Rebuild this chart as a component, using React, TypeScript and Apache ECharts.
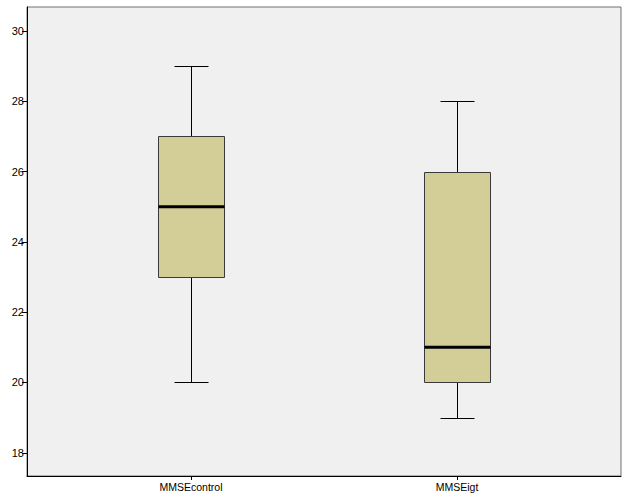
import React, { useEffect, useRef } from "react";
import * as echarts from "echarts";

const categories = ["MMSEcontrol", "MMSEigt"];
// [min, q1, median, q3, max]
const boxStats = [
  [20, 23, 25, 27, 29],
  [19, 20, 21, 26, 28],
];
const yTicks = [18, 20, 22, 24, 26, 28, 30];

export default function App() {
  const ref = useRef<HTMLDivElement>(null);
  useEffect(() => {
    if (!ref.current) return;
    const chart = echarts.init(ref.current, null, { renderer: "svg" });
    const yMin = 17.34;
    const yMax = 30.68;
    const font = "Liberation Sans, Arial, sans-serif";
    const data = boxStats.map((s, i) => [i, ...s]);
    chart.setOption({
      animation: false,
      backgroundColor: "#ffffff",
      grid: [
        {
          left: 27,
          right: 8,
          top: 7,
          bottom: 28,
          show: true,
          backgroundColor: "#F0F0F0",
          borderColor: "#707070",
          borderWidth: 1,
        },
        { left: 58, right: 39, top: 7, bottom: 28 },
      ],
      xAxis: [
        {
          gridIndex: 0,
          type: "value",
          min: 0,
          max: 1,
          axisLine: { show: true, lineStyle: { color: "#000", width: 1 } },
          axisTick: { show: false },
          axisLabel: { show: false },
          splitLine: { show: false },
        },
        {
          gridIndex: 1,
          type: "category",
          data: categories,
          axisLine: { show: false },
          axisTick: {
            show: true,
            alignWithLabel: true,
            length: 4,
            lineStyle: { color: "#000" },
          },
          axisLabel: {
            color: "#000",
            fontFamily: font,
            fontSize: 10.5,
            margin: 5,
          },
          splitLine: { show: false },
        },
      ],
      yAxis: [
        {
          gridIndex: 0,
          type: "value",
          min: yMin,
          max: yMax,
          axisLine: { show: true, lineStyle: { color: "#000", width: 1 } },
          axisTick: {
            show: true,
            length: 5,
            customValues: yTicks,
            lineStyle: { color: "#000" },
          },
          axisLabel: {
            show: true,
            customValues: yTicks,
            color: "#000",
            fontFamily: font,
            fontSize: 11,
            margin: 3,
          },
          splitLine: { show: false },
        },
        {
          gridIndex: 1,
          type: "value",
          min: yMin,
          max: yMax,
          show: false,
        },
      ],
      series: [
        {
          type: "custom",
          xAxisIndex: 1,
          yAxisIndex: 1,
          encode: { x: 0, y: [1, 2, 3, 4, 5] },
          data,
          renderItem: (params: any, api: any) => {
            const idx = api.value(0);
            const band = api.size([1, 0])[0];
            const cx = Math.round(api.coord([idx, 0])[0]) + 0.5;
            const py = (v: number) => Math.round(api.coord([idx, v])[1]) + 0.5;
            const yLo = py(api.value(1));
            const yQ1 = py(api.value(2));
            const yMed = api.coord([idx, api.value(3)])[1];
            const yQ3 = py(api.value(4));
            const yHi = py(api.value(5));
            const hw = Math.round(band * 0.125);
            const cw = Math.round(band * 0.0635);
            const stroke = { stroke: "#000", lineWidth: 1 };
            return {
              type: "group",
              children: [
                { type: "line", shape: { x1: cx, y1: yHi, x2: cx, y2: yQ3 }, style: stroke },
                { type: "line", shape: { x1: cx, y1: yQ1, x2: cx, y2: yLo }, style: stroke },
                { type: "line", shape: { x1: cx - cw, y1: yHi, x2: cx + cw, y2: yHi }, style: stroke },
                { type: "line", shape: { x1: cx - cw, y1: yLo, x2: cx + cw, y2: yLo }, style: stroke },
                {
                  type: "rect",
                  shape: { x: cx - hw, y: yQ3, width: hw * 2, height: yQ1 - yQ3 },
                  style: { fill: "#D3CE97", stroke: "#3a3a3a", lineWidth: 1 },
                },
                {
                  type: "line",
                  shape: { x1: cx - hw, y1: yMed, x2: cx + hw, y2: yMed },
                  style: { stroke: "#000", lineWidth: 3 },
                },
              ],
            };
          },
        },
      ],
    });
    return () => chart.dispose();
  }, []);
  return (
    <div
      ref={ref}
      style={{ position: "absolute", left: 0, top: 0, width: 629, height: 504 }}
    />
  );
}
